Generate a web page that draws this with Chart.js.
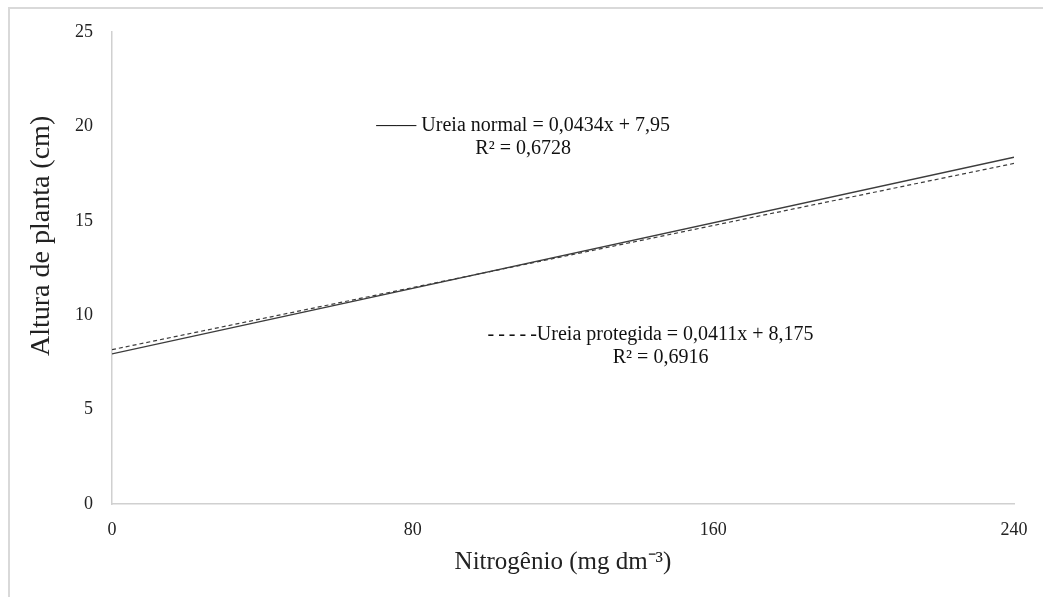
<!DOCTYPE html>
<html lang="pt">
<head>
    <meta charset="UTF-8">
    <title>Altura de planta x Nitrogênio</title>
    <style>
        html, body {
            margin: 0;
            padding: 0;
            background: #fff;
        }
        #wrap {
            position: relative;
            width: 1043px;
            height: 597px;
        }
        #frame {
            position: absolute;
            left: 8px;
            top: 7px;
            right: 0;
            bottom: 0;
            border-top: 2px solid #d9d9d9;
            border-left: 2px solid #d9d9d9;
            pointer-events: none;
        }
        canvas {
            position: absolute;
            left: 0;
            top: 0;
        }
    </style>
</head>
<body>
    <div id="wrap">
        <div id="frame"></div>
        <canvas id="chart" width="1043" height="597"></canvas>
    </div>
    <script src="https://cdn.jsdelivr.net/npm/chart.js"></script>
    <script>
        // dados (retas de regressão)
        const nitrogen = [0, 240];
        const ureiaNormal = [7.95, 18.37];
        const ureiaProtegida = [8.175, 18.04];
        const xTicks = [0, 80, 160, 240];
        const yTicks = [0, 5, 10, 15, 20, 25];

        const serif = "'Liberation Serif', 'Times New Roman', serif";
        const lineColor = '#3c3c3c';
        const yTitle = 'Altura de planta (cm)';

        // equações escritas dentro da área do gráfico
        const equations = [
            { x: 109.4, y: 20.05, lines: ['\u2014\u2014 Ureia normal = 0,0434x + 7,95', 'R\u00b2 = 0,6728'] },
            { x: 143.3, y: 8.95, lines: ['-\u2009-\u2009-\u2009-\u2009-Ureia protegida = 0,0411x + 8,175', 'R\u00b2 = 0,6916'], offsets: [0, 10] }
        ];

        const equationPlugin = {
            id: 'equations',
            afterDatasetsDraw(chart) {
                const { ctx, scales } = chart;
                ctx.save();
                ctx.font = '20px ' + serif;
                ctx.fillStyle = '#111';
                ctx.textAlign = 'center';
                ctx.textBaseline = 'middle';
                equations.forEach(eq => {
                    const px = scales.x.getPixelForValue(eq.x);
                    const py = scales.y.getPixelForValue(eq.y);
                    eq.lines.forEach((t, i) => {
                        const dx = eq.offsets ? eq.offsets[i] : 0;
                        ctx.fillText(t, px + dx, py + i * 23);
                    });
                });
                ctx.restore();

                // título do eixo y (um pouco acima do centro, como no original)
                ctx.save();
                ctx.font = '28px ' + serif;
                ctx.fillStyle = '#222';
                ctx.textAlign = 'center';
                ctx.textBaseline = 'middle';
                ctx.translate(scales.y.left + 42, scales.y.getPixelForValue(14.2));
                ctx.rotate(-Math.PI / 2);
                ctx.fillText(yTitle, 0, 0);
                ctx.restore();
            }
        };

        const ctx = document.getElementById('chart').getContext('2d');
        new Chart(ctx, {
            type: 'scatter',
            data: {
                datasets: [
                    {
                        label: 'Ureia normal',
                        data: nitrogen.map((x, i) => ({ x: x, y: ureiaNormal[i] })),
                        showLine: true,
                        borderColor: lineColor,
                        borderWidth: 1.4,
                        pointRadius: 0
                    },
                    {
                        label: 'Ureia protegida',
                        data: nitrogen.map((x, i) => ({ x: x, y: ureiaProtegida[i] })),
                        showLine: true,
                        borderColor: lineColor,
                        borderWidth: 1.2,
                        borderDash: [4, 3],
                        pointRadius: 0
                    }
                ]
            },
            plugins: [equationPlugin],
            options: {
                responsive: false,
                animation: false,
                layout: { padding: { left: 0, right: 29, top: 32, bottom: 0 } },
                plugins: {
                    legend: { display: false },
                    tooltip: { enabled: false }
                },
                scales: {
                    x: {
                        type: 'linear',
                        min: 0,
                        max: 240,
                        afterBuildTicks: s => { s.ticks = xTicks.map(v => ({ value: v })); },
                        grid: { display: false, drawTicks: false },
                        border: { display: true, color: '#d0d0d0', width: 1.5 },
                        ticks: {
                            padding: 15,
                            color: '#222',
                            font: { family: serif, size: 18 }
                        },
                        title: {
                            display: true,
                            text: 'Nitrogênio (mg dm\u207b\u00b3)',
                            color: '#222',
                            font: { family: serif, size: 25 },
                            padding: { top: 0, bottom: 20 }
                        },
                        afterFit: s => { s.height = 93; }
                    },
                    y: {
                        min: 0,
                        max: 25,
                        afterBuildTicks: s => { s.ticks = yTicks.map(v => ({ value: v })); },
                        grid: { display: false, drawTicks: false },
                        border: { display: true, color: '#d0d0d0', width: 1.5 },
                        ticks: {
                            padding: 19,
                            color: '#222',
                            font: { family: serif, size: 18 }
                        },
                        title: { display: false },
                        afterFit: s => { s.width = 112; }
                    }
                }
            }
        });
    </script>
</body>
</html>
